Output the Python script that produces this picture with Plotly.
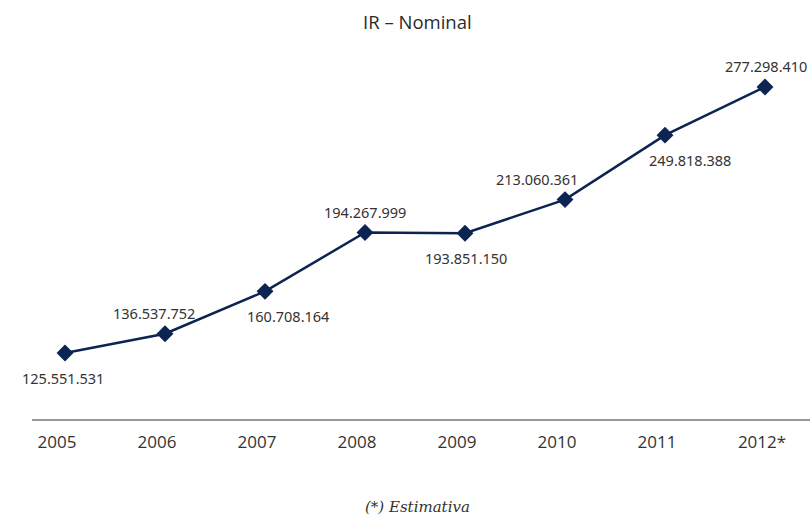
import plotly.graph_objects as go

years = ["2005", "2006", "2007", "2008", "2009", "2010", "2011", "2012*"]
ir_nominal = [125551531, 136537752, 160708164, 194267999, 193851150, 213060361, 249818388, 277298410]
label_side = ["below", "above", "below", "above", "below", "above", "below", "above"]

# horizontal nudges (px) so value labels clear the line
label_dx = [-2, -11, 23, 0, 1, -28, 25, 1]

navy = "#0b2451"
text_color = "#333333"


def br_format(v):
    return f"{v:,}".replace(",", ".")


x_idx = list(range(len(years)))

fig = go.Figure()
fig.add_trace(go.Scatter(
    x=x_idx,
    y=ir_nominal,
    mode="lines+markers",
    line=dict(color=navy, width=2.5),
    marker=dict(symbol="diamond", size=13, color=navy),
    hoverinfo="skip",
    showlegend=False,
))

for xi, v, side, dx in zip(x_idx, ir_nominal, label_side, label_dx):
    fig.add_annotation(
        x=xi, y=v, xref="x", yref="y",
        text=br_format(v), showarrow=False,
        xshift=dx,
        yshift=-25 if side == "below" else 21,
        font=dict(family="Noto Sans, DejaVu Sans", size=14.5, color=text_color),
    )

fig.add_annotation(
    text="IR – Nominal", showarrow=False, xref="paper", yref="paper",
    x=417 / 810, y=1 + (50 - 22) / 370, xanchor="center", yanchor="middle",
    font=dict(family="Open Sans", size=18.5, color="#2a2a2a"),
)
fig.add_annotation(
    text="<i>(*) Estimativa</i>", showarrow=False, xref="paper", yref="paper",
    x=417 / 810, y=-(507 - 420) / 370, xanchor="center", yanchor="middle",
    font=dict(family="DejaVu Serif", size=15, color=text_color),
)

# baseline under the series
fig.add_shape(type="line", xref="x", yref="paper", x0=-0.33, x1=7.45, y0=0, y1=0,
              line=dict(color="#333333", width=1))

fig.update_xaxes(
    range=[-0.65, 7.45],
    tickmode="array", tickvals=[i - 0.08 for i in x_idx[:-1]] + [x_idx[-1] - 0.03],
    ticktext=years,
    ticks="outside", ticklen=7, tickcolor="rgba(0,0,0,0)",
    showgrid=False, zeroline=False, showline=False,
    tickfont=dict(family="Open Sans", size=17, color=text_color),
)
fig.update_yaxes(
    range=[87.3e6, 298.4e6],
    visible=False, showgrid=False, zeroline=False,
)

fig.update_layout(
    width=810, height=518,
    margin=dict(l=0, r=0, t=50, b=98),
    plot_bgcolor="white", paper_bgcolor="white",
)

fig.write_html("out.html")
